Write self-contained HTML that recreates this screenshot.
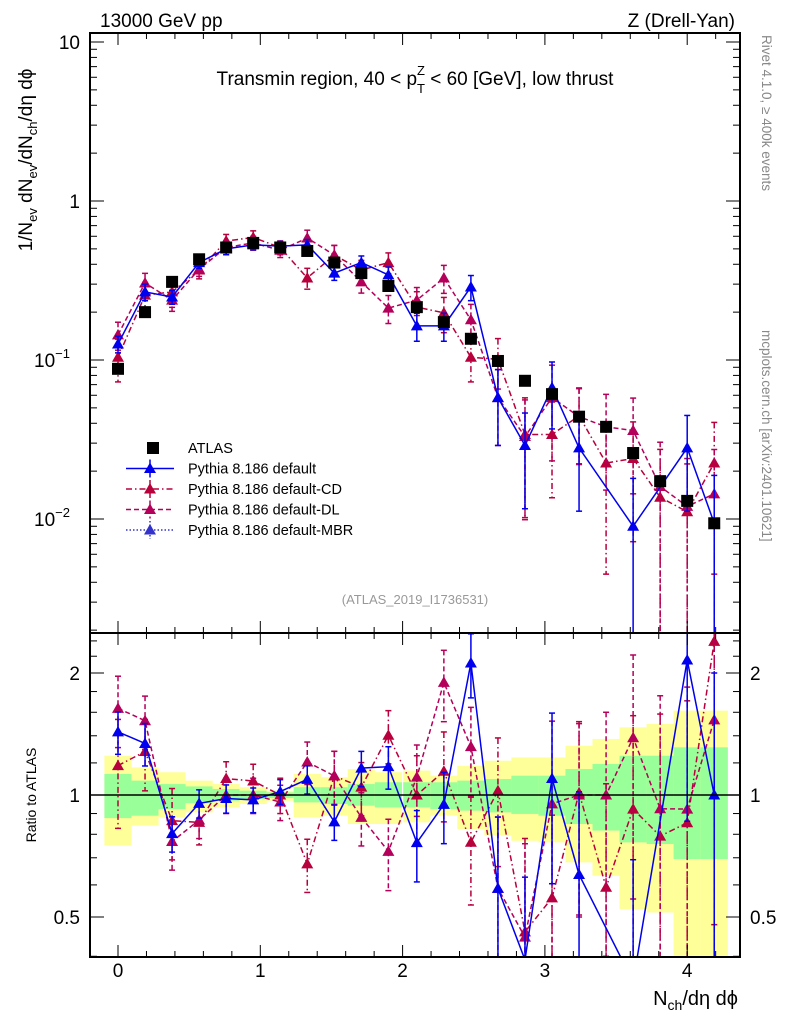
<!DOCTYPE html>
<html><head><meta charset="utf-8">
<style>
html,body{margin:0;padding:0;background:#fff;width:786px;height:1024px;overflow:hidden;}
svg{display:block;font-family:"Liberation Sans",sans-serif;}
</style></head>
<body>
<svg id="chart" width="786" height="1024" viewBox="0 0 786 1024" xmlns="http://www.w3.org/2000/svg">
<g id="bands"></g>
<g id="marks"></g>
<g id="axes"></g>
<text x="100" y="27" font-size="19">13000 GeV pp</text>
<text x="735" y="27" font-size="19" text-anchor="end">Z (Drell-Yan)</text>
<text x="415" y="85" font-size="19" text-anchor="middle">Transmin region, 40 &lt; p<tspan font-size="13" dy="8">T</tspan><tspan font-size="13" dx="-8" dy="-18">Z</tspan><tspan dy="10"> &lt; 60 [GeV], low thrust</tspan></text>
<text x="415" y="604" font-size="13" fill="#999" text-anchor="middle">(ATLAS_2019_I1736531)</text>
<text transform="translate(762,35) rotate(90)" font-size="13.5" fill="#888">Rivet 4.1.0, ≥ 400k events</text>
<text transform="translate(762,330) rotate(90)" font-size="13.5" fill="#888">mcplots.cern.ch [arXiv:2401.10621]</text>
<text transform="translate(32,160) rotate(-90)" font-size="19" text-anchor="middle">1/N<tspan font-size="13" dy="5">ev</tspan><tspan dy="-5"> dN</tspan><tspan font-size="13" dy="5">ev</tspan><tspan dy="-5">/dN</tspan><tspan font-size="13" dy="5">ch</tspan><tspan dy="-5">/dη dϕ</tspan></text>
<text transform="translate(36,795) rotate(-90)" font-size="14" text-anchor="middle">Ratio to ATLAS</text>
<text x="738" y="1005" font-size="20" text-anchor="end">N<tspan font-size="14" dy="5">ch</tspan><tspan dy="-5">/dη dϕ</tspan></text>
<g id="legend"></g>
</svg>
<script>
const xCats = [0,0.19,0.38,0.57,0.76,0.95,1.14,1.33,1.52,1.71,1.9,2.1,2.29,2.48,2.67,2.86,3.05,3.24,3.43,3.62,3.81,4.0,4.19];
const atlas = [0.088,0.20,0.31,0.43,0.51,0.545,0.51,0.485,0.41,0.352,0.292,0.215,0.173,0.136,0.0986,0.074,0.061,0.044,0.038,0.026,0.0173,0.013,0.0094];
const pyDefault = [0.126,0.268,0.249,0.41,0.50,0.53,0.52,0.53,0.352,0.41,0.343,0.164,0.164,0.288,0.058,0.029,0.067,0.028,null,0.009,null,0.028,0.0094];
const pyCD = [0.104,0.256,0.268,0.368,0.56,0.59,0.51,0.328,0.457,0.368,0.41,0.215,0.198,0.104,0.101,0.034,0.034,0.0445,0.0225,0.024,0.0137,0.0111,0.0225];
const pyDL = [0.144,0.305,0.238,0.373,0.51,0.545,0.49,0.585,0.457,0.31,0.212,0.238,0.328,0.179,0.058,0.033,0.058,0.044,0.038,0.036,0.016,0.012,0.0144];
const errDefault = [0.12,0.12,0.1,0.08,0.08,0.07,0.07,0.08,0.1,0.1,0.12,0.2,0.2,0.18,0.5,0.6,0.45,0.6,0,1,0,0.6,1];
const errCD = [0.3,0.2,0.2,0.12,0.1,0.1,0.1,0.15,0.15,0.15,0.15,0.25,0.25,0.3,0.35,0.7,0.6,0.5,0.8,0.7,1,1,0.8];
const errDL = [0.2,0.15,0.15,0.1,0.1,0.1,0.1,0.12,0.15,0.15,0.2,0.2,0.2,0.25,0.5,0.7,0.6,0.5,0.6,0.6,0.9,1,0.9];
const bandGreenUp = [1.127,1.085,1.064,1.05,1.035,1.025,1.015,1.045,1.045,1.064,1.075,1.075,1.075,1.085,1.095,1.116,1.116,1.159,1.193,1.25,1.25,1.311,1.311];
const bandGreenLo = [0.877,0.889,0.923,0.955,0.968,0.977,0.983,0.959,0.95,0.941,0.932,0.932,0.923,0.915,0.906,0.898,0.889,0.848,0.817,0.764,0.757,0.695,0.695];
const bandYellowUp = [1.25,1.17,1.138,1.085,1.064,1.045,1.025,1.127,1.106,1.159,1.138,1.149,1.116,1.181,1.215,1.238,1.238,1.323,1.375,1.469,1.497,1.615,1.615];
const bandYellowLo = [0.75,0.84,0.881,0.906,0.932,0.95,0.968,0.881,0.889,0.848,0.848,0.856,0.889,0.824,0.794,0.771,0.764,0.682,0.632,0.523,0.513,0.401,0.401];
const xTickLabels = ["0","1","2","3","4"];
const ratioTickVals = [0.5,1,2];
const ratioTickLabels = ["0.5","1","2"];

const NS="http://www.w3.org/2000/svg";
const L=90,R=740,T=33,MB=633,RB=957;
const X=v=>118+v*142.3;
const Y=v=>201-Math.log10(v)*159;
const RY=r=>795-Math.log2(r)*122;
function el(tag,attrs,parent){const e=document.createElementNS(NS,tag);for(const k in attrs)e.setAttribute(k,attrs[k]);parent.appendChild(e);return e;}
const bands=document.getElementById('bands'),marks=document.getElementById('marks'),axes=document.getElementById('axes'),legend=document.getElementById('legend');
const half=13.6;
xCats.forEach((c,i)=>{
  const x0=X(c)-half, w=2*half;
  const y1=el('rect',{x:x0,y:RY(bandYellowUp[i]),width:w,height:RY(bandYellowLo[i])-RY(bandYellowUp[i]),fill:'#ffff99'},bands);
  
  
  const g1=el('rect',{x:x0,y:RY(bandGreenUp[i]),width:w,height:RY(bandGreenLo[i])-RY(bandGreenUp[i]),fill:'#99ff99'},bands);
  
  
});
el('line',{x1:L,x2:R,y1:RY(1),y2:RY(1),stroke:'#000','stroke-width':1.5},axes);
const clipM=el('clipPath',{id:'cm'},marks);el('rect',{x:L,y:T,width:R-L,height:MB-T},clipM);
const clipR=el('clipPath',{id:'cr'},marks);el('rect',{x:L,y:MB,width:R-L,height:RB-MB},clipR);
const gM=el('g',{'clip-path':'url(#cm)'},marks), gR=el('g',{'clip-path':'url(#cr)'},marks);
function tri(g,x,y,col){return el('path',{d:`M${x},${y-6}L${x+6},${y+4.5}L${x-6},${y+4.5}Z`,fill:col},g);}
const series=[
  {vals:pyCD,err:errCD,col:'#b8003c',dash:'6,3,1.5,3',name:'pythia-default-cd'},
  {vals:pyDL,err:errDL,col:'#b4005a',dash:'5,3',name:'pythia-default-dl'},
  {vals:pyDefault,err:errDefault,col:'#0000ee',dash:'',name:'pythia-default'}
];
series.forEach(s=>{
  [[gM,Y],[gR,RY]].forEach(([g,fy],pi)=>{
    const val=i=>pi===0?s.vals[i]:s.vals[i]/atlas[i];
    let pts=[];
    xCats.forEach((c,i)=>{if(s.vals[i]!=null)pts.push([X(c),fy(val(i))]);});
    const ln=el('polyline',{points:pts.map(p=>p.join(',')).join(' '),fill:'none',stroke:s.col,'stroke-width':1.5,'stroke-dasharray':s.dash},g);
    
    
    xCats.forEach((c,i)=>{
      if(s.vals[i]==null)return;
      const v=val(i),e=s.err[i],x=X(c);
      const lo=Math.max(v*(1-e),1e-4),hi=v*(1+e);
      const eb=el('line',{x1:x,x2:x,y1:fy(hi),y2:fy(lo),stroke:s.col,'stroke-width':1.5,'stroke-dasharray':s.dash},g);
      
      
      el('line',{x1:x-3,x2:x+3,y1:fy(hi),y2:fy(hi),stroke:s.col,'stroke-width':1.5},g);
      el('line',{x1:x-3,x2:x+3,y1:fy(lo),y2:fy(lo),stroke:s.col,'stroke-width':1.5},g);
      const t=tri(g,x,fy(v),s.col);
      
      
    });
  });
});
xCats.forEach((c,i)=>{
  const sq=el('rect',{x:X(c)-6,y:Y(atlas[i])-6,width:12,height:12,fill:'#000'},gM);
  
  
});
[[T,MB],[MB,RB]].forEach(([a,b])=>el('rect',{x:L,y:a,width:R-L,height:b-a,fill:'none',stroke:'#000','stroke-width':2},axes));
for(let k=-0.4;k<=4.4;k+=0.2){const v=Math.round(k*10)/10;const x=X(v);if(x<L||x>R)continue;const maj=Math.abs(v-Math.round(v))<1e-6;const len=maj?12:6;
 [T,MB].forEach(y=>el('line',{x1:x,x2:x,y1:y,y2:y+len,stroke:'#000'},axes));
 [MB,RB].forEach(y=>el('line',{x1:x,x2:x,y1:y,y2:y-len,stroke:'#000'},axes));}
xTickLabels.forEach((t,i)=>{const tx=el('text',{x:X(i),y:977,'font-size':19,'text-anchor':'middle'},axes);tx.textContent=t;
 });
for(let d=-3;d<=1;d++){for(let m=1;m<=9;m++){const v=m*Math.pow(10,d);const y=Y(v);if(y<T||y>MB)continue;const len=m===1?14:7;
 el('line',{x1:L,x2:L+len,y1:y,y2:y,stroke:'#000'},axes);el('line',{x1:R,x2:R-len,y1:y,y2:y,stroke:'#000'},axes);}}
[[10,"10",""],[1,"1",""],[0.1,"10","−1"],[0.01,"10","−2"]].forEach(([v,b,e])=>{const tx=el('text',{x:e?70:80,y:Y(v)+7,'font-size':19,'text-anchor':'end'},axes);tx.textContent=b;
 
 if(e){const ex=el('tspan',{'font-size':13,dy:-9},tx);ex.textContent=e;}});
for(let r=0.4;r<=2.5;r+=0.1){const v=Math.round(r*10)/10;const y=RY(v);if(y<MB||y>RB)continue;const maj=ratioTickVals.includes(v);const len=maj?14:7;
 if(!maj&&v>1&&Math.round(v*10)%2)continue;
 el('line',{x1:L,x2:L+len,y1:y,y2:y,stroke:'#000'},axes);el('line',{x1:R,x2:R-len,y1:y,y2:y,stroke:'#000'},axes);}
ratioTickVals.forEach((v,i)=>{[[80,'end'],[750,'start']].forEach(([x,a])=>{const tx=el('text',{x:x,y:RY(v)+7,'font-size':19,'text-anchor':a},axes);tx.textContent=ratioTickLabels[i];
 });});
const legItems=[["ATLAS","#000","sq",""],["Pythia 8.186 default","#0000ee","tri",""],["Pythia 8.186 default-CD","#b8003c","tri","6,3,1.5,3"],["Pythia 8.186 default-DL","#b4005a","tri","5,3"],["Pythia 8.186 default-MBR","#3333cc","tri","1.5,2"]];
legItems.forEach((it,i)=>{const y=448+i*20.5;const g=el('g',{},legend);
 
 if(it[2]==='sq'){el('rect',{x:147,y:y-6,width:12,height:12,fill:'#000'},g);}
 else{el('line',{x1:126,x2:174,y1:y,y2:y,stroke:it[1],'stroke-width':1.5,'stroke-dasharray':it[3]},g);el('line',{x1:150,x2:150,y1:y-9,y2:y+9,stroke:it[1],'stroke-width':1.5,'stroke-dasharray':it[3]},g);tri(g,150,y,it[1]);}
 const t=el('text',{x:188,y:y+5,'font-size':14.5},g);t.textContent=it[0];});
</script>
</body></html>
